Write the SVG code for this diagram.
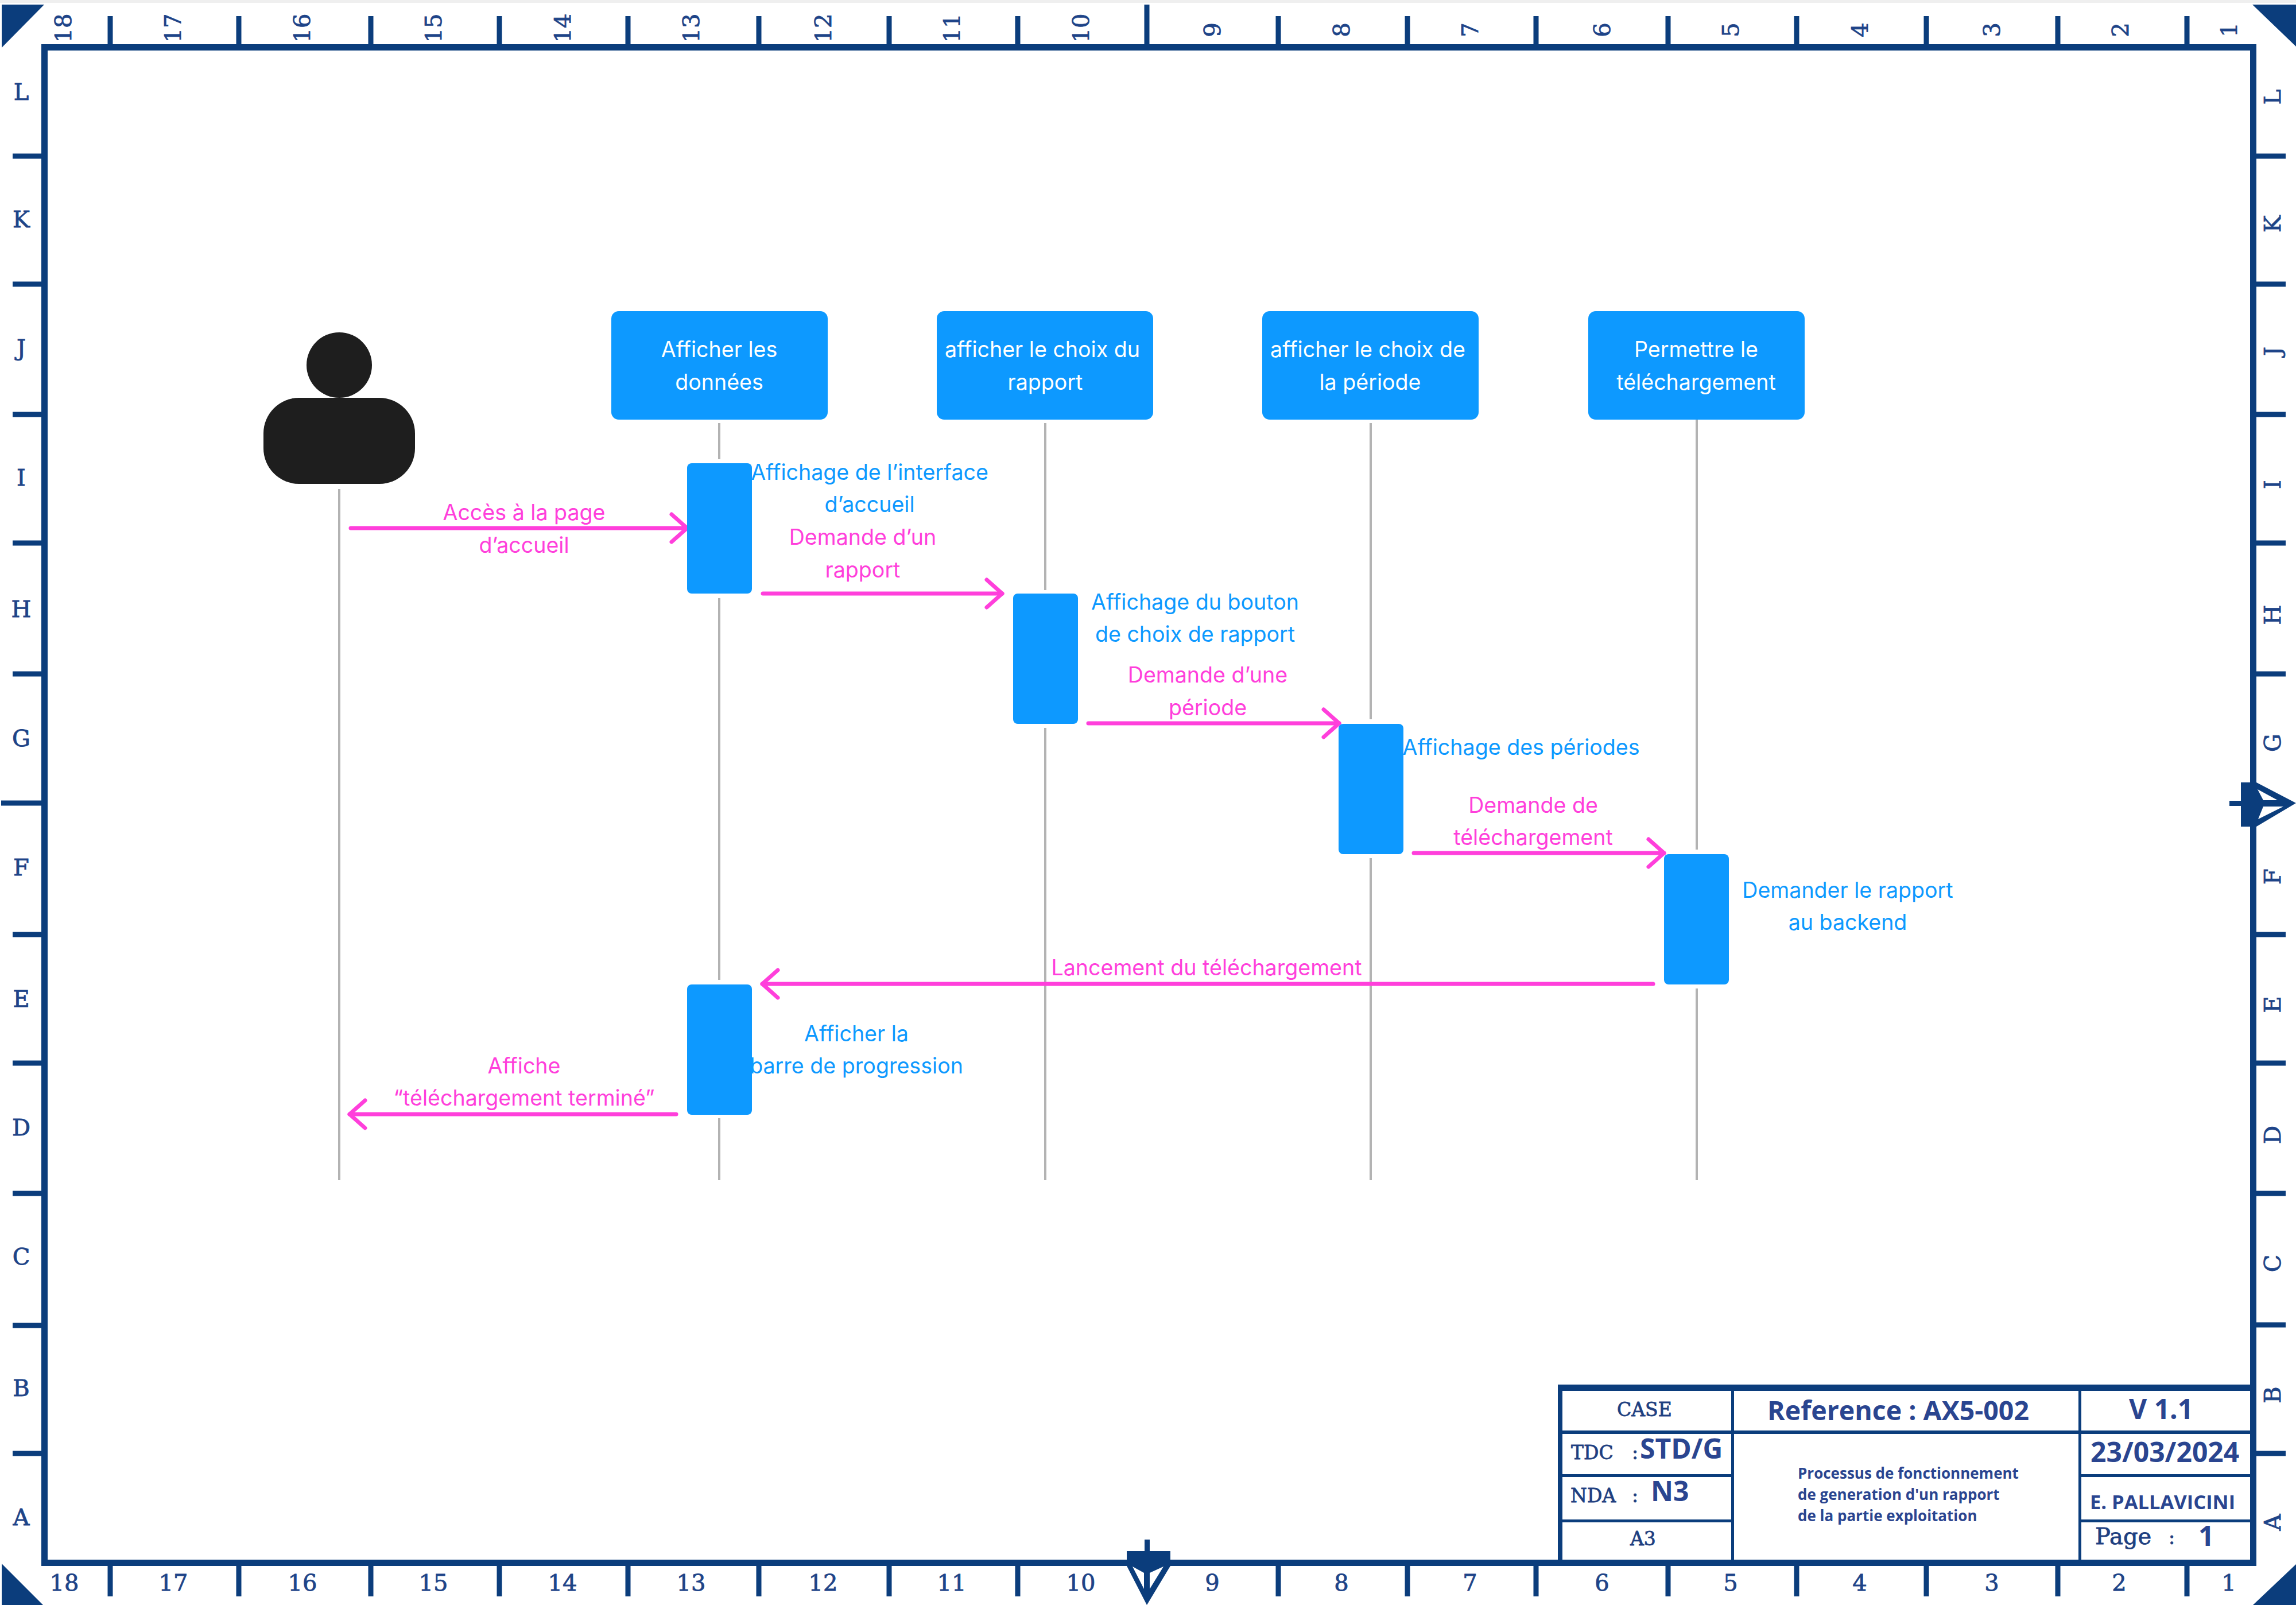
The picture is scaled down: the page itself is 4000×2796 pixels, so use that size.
<svg xmlns="http://www.w3.org/2000/svg" width="4000" height="2796" viewBox="0 0 4000 2796">
<style>
text{font-family:"Inter","Noto Sans",sans-serif;font-size:37.6px;text-anchor:middle}
.w{fill:#fff}.b{fill:#0D99FF}.p{fill:#FF3FDB}
.box{fill:#0D99FF}
.navy{fill:#0B3D7C}
.tick{stroke:#0B3D7C;stroke-width:9;fill:none}
.life{stroke:#B3B3B3;stroke-width:4;fill:none}
.msg{stroke:#FF3FDB;stroke-width:7;stroke-linecap:round;fill:none;marker-end:url(#arrow)}
.m{font-family:"DejaVu Serif",serif;font-size:40px;fill:#1E4488;stroke:#1E4488;stroke-width:.8}
.t{font-family:"Open Sans","Noto Sans",sans-serif;font-weight:700;fill:#2A4590;text-anchor:start}
.t2{font-family:"DejaVu Serif",serif;font-size:33px;fill:#1E3F80;stroke:#1E3F80;stroke-width:.8;text-anchor:start}
.pg{font-size:40px}
.s48{font-size:48px}.s46{font-size:46.5px}.s35{font-size:34.5px}.s27{font-size:26px}
</style>
<defs>
<marker id="arrow" markerUnits="userSpaceOnUse" viewBox="0 0 60 70" markerWidth="60" markerHeight="70" refX="50" refY="35" orient="auto">
<path d="M23,11L50,35L23,59" fill="none" stroke="#FF3FDB" stroke-width="7" stroke-linecap="round" stroke-linejoin="round"/>
</marker>
</defs>
<rect width="4000" height="2796" fill="#fff"/>
<rect width="4000" height="5" fill="#EFEFEF"/>
<g id="frame">
<rect class="navy" x="72" y="77" width="3859" height="11"/>
<rect class="navy" x="72" y="2717" width="3859" height="11"/>
<rect class="navy" x="72" y="77" width="11" height="2651"/>
<rect class="navy" x="3920" y="77" width="11" height="2651"/>
<polygon class="navy" points="3,8 77,8 3,83"/>
<polygon class="navy" points="3924,8 4000,8 4000,81"/>
<polygon class="navy" points="3,2724 3,2796 75,2796"/>
<polygon class="navy" points="3925,2796 4000,2725 4000,2796"/>
<path class="tick" d="M192 28V77M416 28V77M646 28V77M870 28V77M1094 28V77M1322 28V77M1549 28V77M1773 28V77M1998 8V77M2227 28V77M2452 28V77M2676 28V77M2906 28V77M3130 28V77M3356 28V77M3585 28V77M3810 28V77"/>
<path class="tick" d="M192 2728V2781M416 2728V2781M646 2728V2781M870 2728V2781M1094 2728V2781M1322 2728V2781M1549 2728V2781M1773 2728V2781M2227 2728V2781M2452 2728V2781M2676 2728V2781M2906 2728V2781M3130 2728V2781M3356 2728V2781M3585 2728V2781M3810 2728V2781"/>
<path class="tick" d="M22 272H72M22 495H72M22 722H72M22 946H72M22 1174H72M2 1399H72M22 1628H72M22 1852H72M22 2079H72M22 2309H72M22 2532H72"/>
<path class="tick" d="M3931 272H3982M3931 495H3982M3931 722H3982M3931 946H3982M3931 1174H3982M3931 1628H3982M3931 1852H3982M3931 2079H3982M3931 2308H3982M3931 2532H3982"/>
<rect class="navy" x="1994" y="2682" width="9" height="22"/>
<path class="navy" fill-rule="evenodd" d="M1963 2702H2039V2728L1998 2796L1963 2728ZM1973 2729L1993 2768V2740ZM2027 2729L2003 2740V2768Z"/>
<rect class="navy" x="3884" y="1395" width="22" height="9"/>
<path class="navy" fill-rule="evenodd" d="M3904 1363H3931L4000 1399L3931 1440H3904ZM3933 1375L3943 1394H3968ZM3934 1427L3978 1405H3943Z"/>
<g id="top-labels">
<text class="m" transform="translate(124,49) rotate(-90)">18</text>
<text class="m" transform="translate(315,49) rotate(-90)">17</text>
<text class="m" transform="translate(540,49) rotate(-90)">16</text>
<text class="m" transform="translate(769,49) rotate(-90)">15</text>
<text class="m" transform="translate(994,49) rotate(-90)">14</text>
<text class="m" transform="translate(1218,49) rotate(-90)">13</text>
<text class="m" transform="translate(1448,49) rotate(-90)">12</text>
<text class="m" transform="translate(1672,49) rotate(-90)">11</text>
<text class="m" transform="translate(1897,49) rotate(-90)">10</text>
<text class="m" transform="translate(2126,52) rotate(-90)">9</text>
<text class="m" transform="translate(2351,52) rotate(-90)">8</text>
<text class="m" transform="translate(2575,52) rotate(-90)">7</text>
<text class="m" transform="translate(2805,52) rotate(-90)">6</text>
<text class="m" transform="translate(3029,52) rotate(-90)">5</text>
<text class="m" transform="translate(3254,52) rotate(-90)">4</text>
<text class="m" transform="translate(3484,52) rotate(-90)">3</text>
<text class="m" transform="translate(3708,52) rotate(-90)">2</text>
<text class="m" transform="translate(3897,52) rotate(-90)">1</text>
</g>
<g id="bottom-labels">
<text class="m" x="112" y="2771">18</text>
<text class="m" x="302" y="2771">17</text>
<text class="m" x="527" y="2771">16</text>
<text class="m" x="755" y="2771">15</text>
<text class="m" x="980" y="2771">14</text>
<text class="m" x="1204" y="2771">13</text>
<text class="m" x="1434" y="2771">12</text>
<text class="m" x="1658" y="2771">11</text>
<text class="m" x="1883" y="2771">10</text>
<text class="m" x="2112" y="2771">9</text>
<text class="m" x="2337" y="2771">8</text>
<text class="m" x="2561" y="2771">7</text>
<text class="m" x="2791" y="2771">6</text>
<text class="m" x="3015" y="2771">5</text>
<text class="m" x="3240" y="2771">4</text>
<text class="m" x="3470" y="2771">3</text>
<text class="m" x="3692" y="2771">2</text>
<text class="m" x="3883" y="2771">1</text>
</g>
<g id="left-labels">
<text class="m" x="37" y="174">L</text>
<text class="m" x="37" y="396">K</text>
<text class="m" x="37" y="620">J</text>
<text class="m" x="37" y="846">I</text>
<text class="m" x="37" y="1075">H</text>
<text class="m" x="37" y="1300">G</text>
<text class="m" x="37" y="1525">F</text>
<text class="m" x="37" y="1754">E</text>
<text class="m" x="37" y="1978">D</text>
<text class="m" x="37" y="2203">C</text>
<text class="m" x="37" y="2432">B</text>
<text class="m" x="37" y="2657">A</text>
</g>
<g id="right-labels">
<text class="m" transform="translate(3973,169) rotate(-90)">L</text>
<text class="m" transform="translate(3973,390) rotate(-90)">K</text>
<text class="m" transform="translate(3973,612) rotate(-90)">J</text>
<text class="m" transform="translate(3973,844) rotate(-90)">I</text>
<text class="m" transform="translate(3973,1071) rotate(-90)">H</text>
<text class="m" transform="translate(3973,1294) rotate(-90)">G</text>
<text class="m" transform="translate(3973,1527) rotate(-90)">F</text>
<text class="m" transform="translate(3973,1750) rotate(-90)">E</text>
<text class="m" transform="translate(3973,1977) rotate(-90)">D</text>
<text class="m" transform="translate(3973,2201) rotate(-90)">C</text>
<text class="m" transform="translate(3973,2430) rotate(-90)">B</text>
<text class="m" transform="translate(3973,2652) rotate(-90)">A</text>
</g>
</g>
<g id="title-block">
<rect class="navy" x="2714" y="2412" width="1206" height="11"/>
<rect class="navy" x="2714" y="2412" width="8" height="305"/>
<rect class="navy" x="3016" y="2423" width="5" height="294"/>
<rect class="navy" x="3621" y="2423" width="5" height="294"/>
<rect class="navy" x="2722" y="2492" width="1198" height="6"/>
<rect class="navy" x="2722" y="2568" width="296" height="5"/>
<rect class="navy" x="2722" y="2647" width="296" height="5"/>
<rect class="navy" x="3626" y="2568" width="294" height="5"/>
<rect class="navy" x="3626" y="2647" width="294" height="5"/>
<text class="t2" x="2817" y="2467">CASE</text>
<text class="t2" x="2737" y="2542">TDC</text>
<text class="t2" x="2843" y="2542">:</text>
<text class="t s48" x="2857" y="2541">STD/G</text>
<text class="t2" x="2736" y="2617">NDA</text>
<text class="t2" x="2843" y="2617">:</text>
<text class="t s48" x="2876" y="2615">N3</text>
<text class="t2" x="2840" y="2692">A3</text>
<text class="t s46" x="3079" y="2474">Reference : AX5-002</text>
<text class="t s48" x="3709" y="2472">V 1.1</text>
<text class="t s48" x="3642" y="2547">23/03/2024</text>
<text class="t s35" x="3641" y="2629">E. PALLAVICINI</text>
<text class="t2 pg" x="3650" y="2690">Page</text>
<text class="t2" x="3778" y="2690">:</text>
<text class="t s48" x="3830" y="2693">1</text>
<text class="t s27" x="3132" y="2576">Processus de fonctionnement</text>
<text class="t s27" x="3132" y="2613">de generation d'un rapport</text>
<text class="t s27" x="3132" y="2650">de la partie exploitation</text>
</g>
<g id="connectors">
<path class="life" d="M591 852V2056"/>
<path class="life" d="M1253 737V800M1253 1042V1707M1253 1948V2056"/>
<path class="life" d="M1821 737V1028M1821 1268V2056"/>
<path class="life" d="M2388 737V1253M2388 1495V2056"/>
<path class="life" d="M2956 731V1480M2956 1722V2056"/>
<path class="msg" d="M611 920H1197"/>
<path class="msg" d="M1329 1034H1746"/>
<path class="msg" d="M1896 1260H2333"/>
<path class="msg" d="M2463 1486H2899"/>
<path class="msg" d="M2880 1714H1328"/>
<path class="msg" d="M1178 1941H609"/>
</g>
<g id="actor">
<circle cx="591" cy="636" r="57" fill="#1E1E1E"/>
<rect x="459" y="693" width="264" height="150" rx="62" fill="#1E1E1E"/>
</g>
<g id="node-donnees">
<rect class="box" x="1065" y="542" width="377" height="189" rx="13"/>
<text class="w" x="1253" y="622">Afficher les</text>
<text class="w" x="1253" y="679">données</text>
</g>
<g id="node-rapport">
<rect class="box" x="1632" y="542" width="377" height="189" rx="13"/>
<text class="w" x="1816" y="622">afficher le choix du</text>
<text class="w" x="1821" y="679">rapport</text>
</g>
<g id="node-periode">
<rect class="box" x="2199" y="542" width="377" height="189" rx="13"/>
<text class="w" x="2383" y="622">afficher le choix de</text>
<text class="w" x="2387" y="679">la période</text>
</g>
<g id="node-telechargement">
<rect class="box" x="2767" y="542" width="377" height="189" rx="13"/>
<text class="w" x="2955" y="622">Permettre le</text>
<text class="w" x="2955" y="679">téléchargement</text>
</g>
<g id="activation-1"><rect class="box" x="1197" y="807" width="113" height="227" rx="8"/></g>
<g id="activation-2"><rect class="box" x="1765" y="1034" width="113" height="227" rx="8"/></g>
<g id="activation-3"><rect class="box" x="2332" y="1261" width="113" height="227" rx="8"/></g>
<g id="activation-4"><rect class="box" x="2899" y="1488" width="113" height="227" rx="8"/></g>
<g id="activation-5"><rect class="box" x="1197" y="1715" width="113" height="227" rx="8"/></g>
<g id="labels">
<text class="p" x="913" y="906">Accès à la page</text>
<text class="p" x="913" y="963">d’accueil</text>
<text class="b" x="1515" y="836">Affichage de l’interface</text>
<text class="b" x="1515" y="892">d’accueil</text>
<text class="p" x="1503" y="949">Demande d’un</text>
<text class="p" x="1503" y="1006">rapport</text>
<text class="b" x="2082" y="1062">Affichage du bouton</text>
<text class="b" x="2082" y="1118">de choix de rapport</text>
<text class="p" x="2104" y="1189">Demande d’une</text>
<text class="p" x="2104" y="1246">période</text>
<text class="b" x="2650" y="1315">Affichage des périodes</text>
<text class="p" x="2671" y="1416">Demande de</text>
<text class="p" x="2671" y="1472">téléchargement</text>
<text class="b" x="3219" y="1564">Demander le rapport</text>
<text class="b" x="3219" y="1620">au backend</text>
<text class="p" x="2102" y="1699">Lancement du téléchargement</text>
<text class="b" x="1492" y="1814">Afficher la</text>
<text class="b" x="1492" y="1870">barre de progression</text>
<text class="p" x="913" y="1870">Affiche</text>
<text class="p" x="913" y="1926">“téléchargement terminé”</text>
</g>
</svg>
